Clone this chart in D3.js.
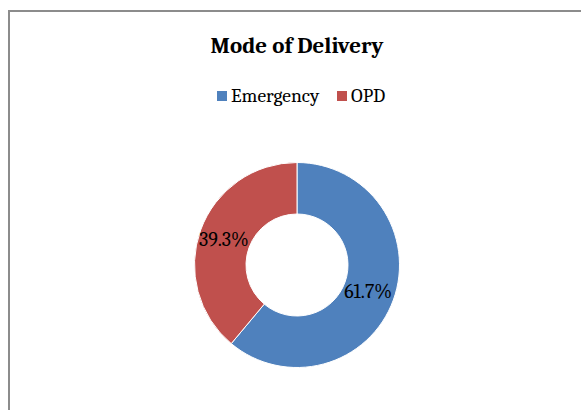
<!DOCTYPE html>
<html>
<head>
<meta charset="utf-8">
<title>Mode of Delivery</title>
<script src="https://cdn.jsdelivr.net/npm/d3@7"></script>
<style>
  body { margin: 0; background: #fff; }
  svg text { font-family: Cambria, "Liberation Serif", "DejaVu Serif", serif; fill: #000; }
</style>
</head>
<body>
<div id="chart"></div>
<script>
var categories = ['Emergency', 'OPD'];
var values = [61.7, 39.3];
var labels = ['61.7%', '39.3%'];
var colors = ['#4F81BD', '#C0504D'];

var width = 581, height = 410;
var cx = 297, cy = 265, outerR = 102.5, innerR = 51;

var svg = d3.select('#chart').append('svg')
  .attr('width', width).attr('height', height);

// chart area border (runs off the right and bottom edges)
svg.append('rect')
  .attr('x', 9).attr('y', 11)
  .attr('width', 600).attr('height', 420)
  .attr('fill', '#fff')
  .attr('stroke', '#8c8c8c')
  .attr('stroke-width', 2);

svg.append('text')
  .attr('x', 297).attr('y', 53)
  .attr('text-anchor', 'middle')
  .style('font-size', '23px')
  .style('font-weight', 'bold')
  .text('Mode of Delivery');

var color = d3.scaleOrdinal().domain(categories).range(colors);

var data = categories.map(function (c, i) { return { label: c, value: values[i], text: labels[i] }; });

// legend
var legendX = [217, 337];
var legend = svg.selectAll('.legend').data(data).enter().append('g')
  .attr('class', 'legend')
  .attr('transform', function (d, i) { return 'translate(' + legendX[i] + ',91)'; });
legend.append('rect')
  .attr('width', 10).attr('height', 10)
  .attr('fill', function (d) { return color(d.label); });
legend.append('text')
  .attr('x', 14).attr('y', 11)
  .style('font-size', '19.5px')
  .text(function (d) { return d.label; });

var pie = d3.pie().value(function (d) { return d.value; }).sort(null);
var arc = d3.arc().innerRadius(innerR).outerRadius(outerR);

var g = svg.append('g').attr('transform', 'translate(' + cx + ',' + cy + ')');
var arcs = pie(data);

g.selectAll('path').data(arcs).enter().append('path')
  .attr('d', arc)
  .attr('fill', function (d) { return color(d.data.label); })
  .attr('stroke', '#fff')
  .attr('stroke-width', 1);

g.selectAll('.lbl').data(arcs).enter().append('text')
  .attr('class', 'lbl')
  .attr('transform', function (d) { var c = arc.centroid(d); return 'translate(' + (c[0] - 1) + ',' + (c[1] + 7) + ')'; })
  .attr('text-anchor', 'middle')
  .style('font-size', '20px')
  .text(function (d) { return d.data.text; });
</script>
</body>
</html>
